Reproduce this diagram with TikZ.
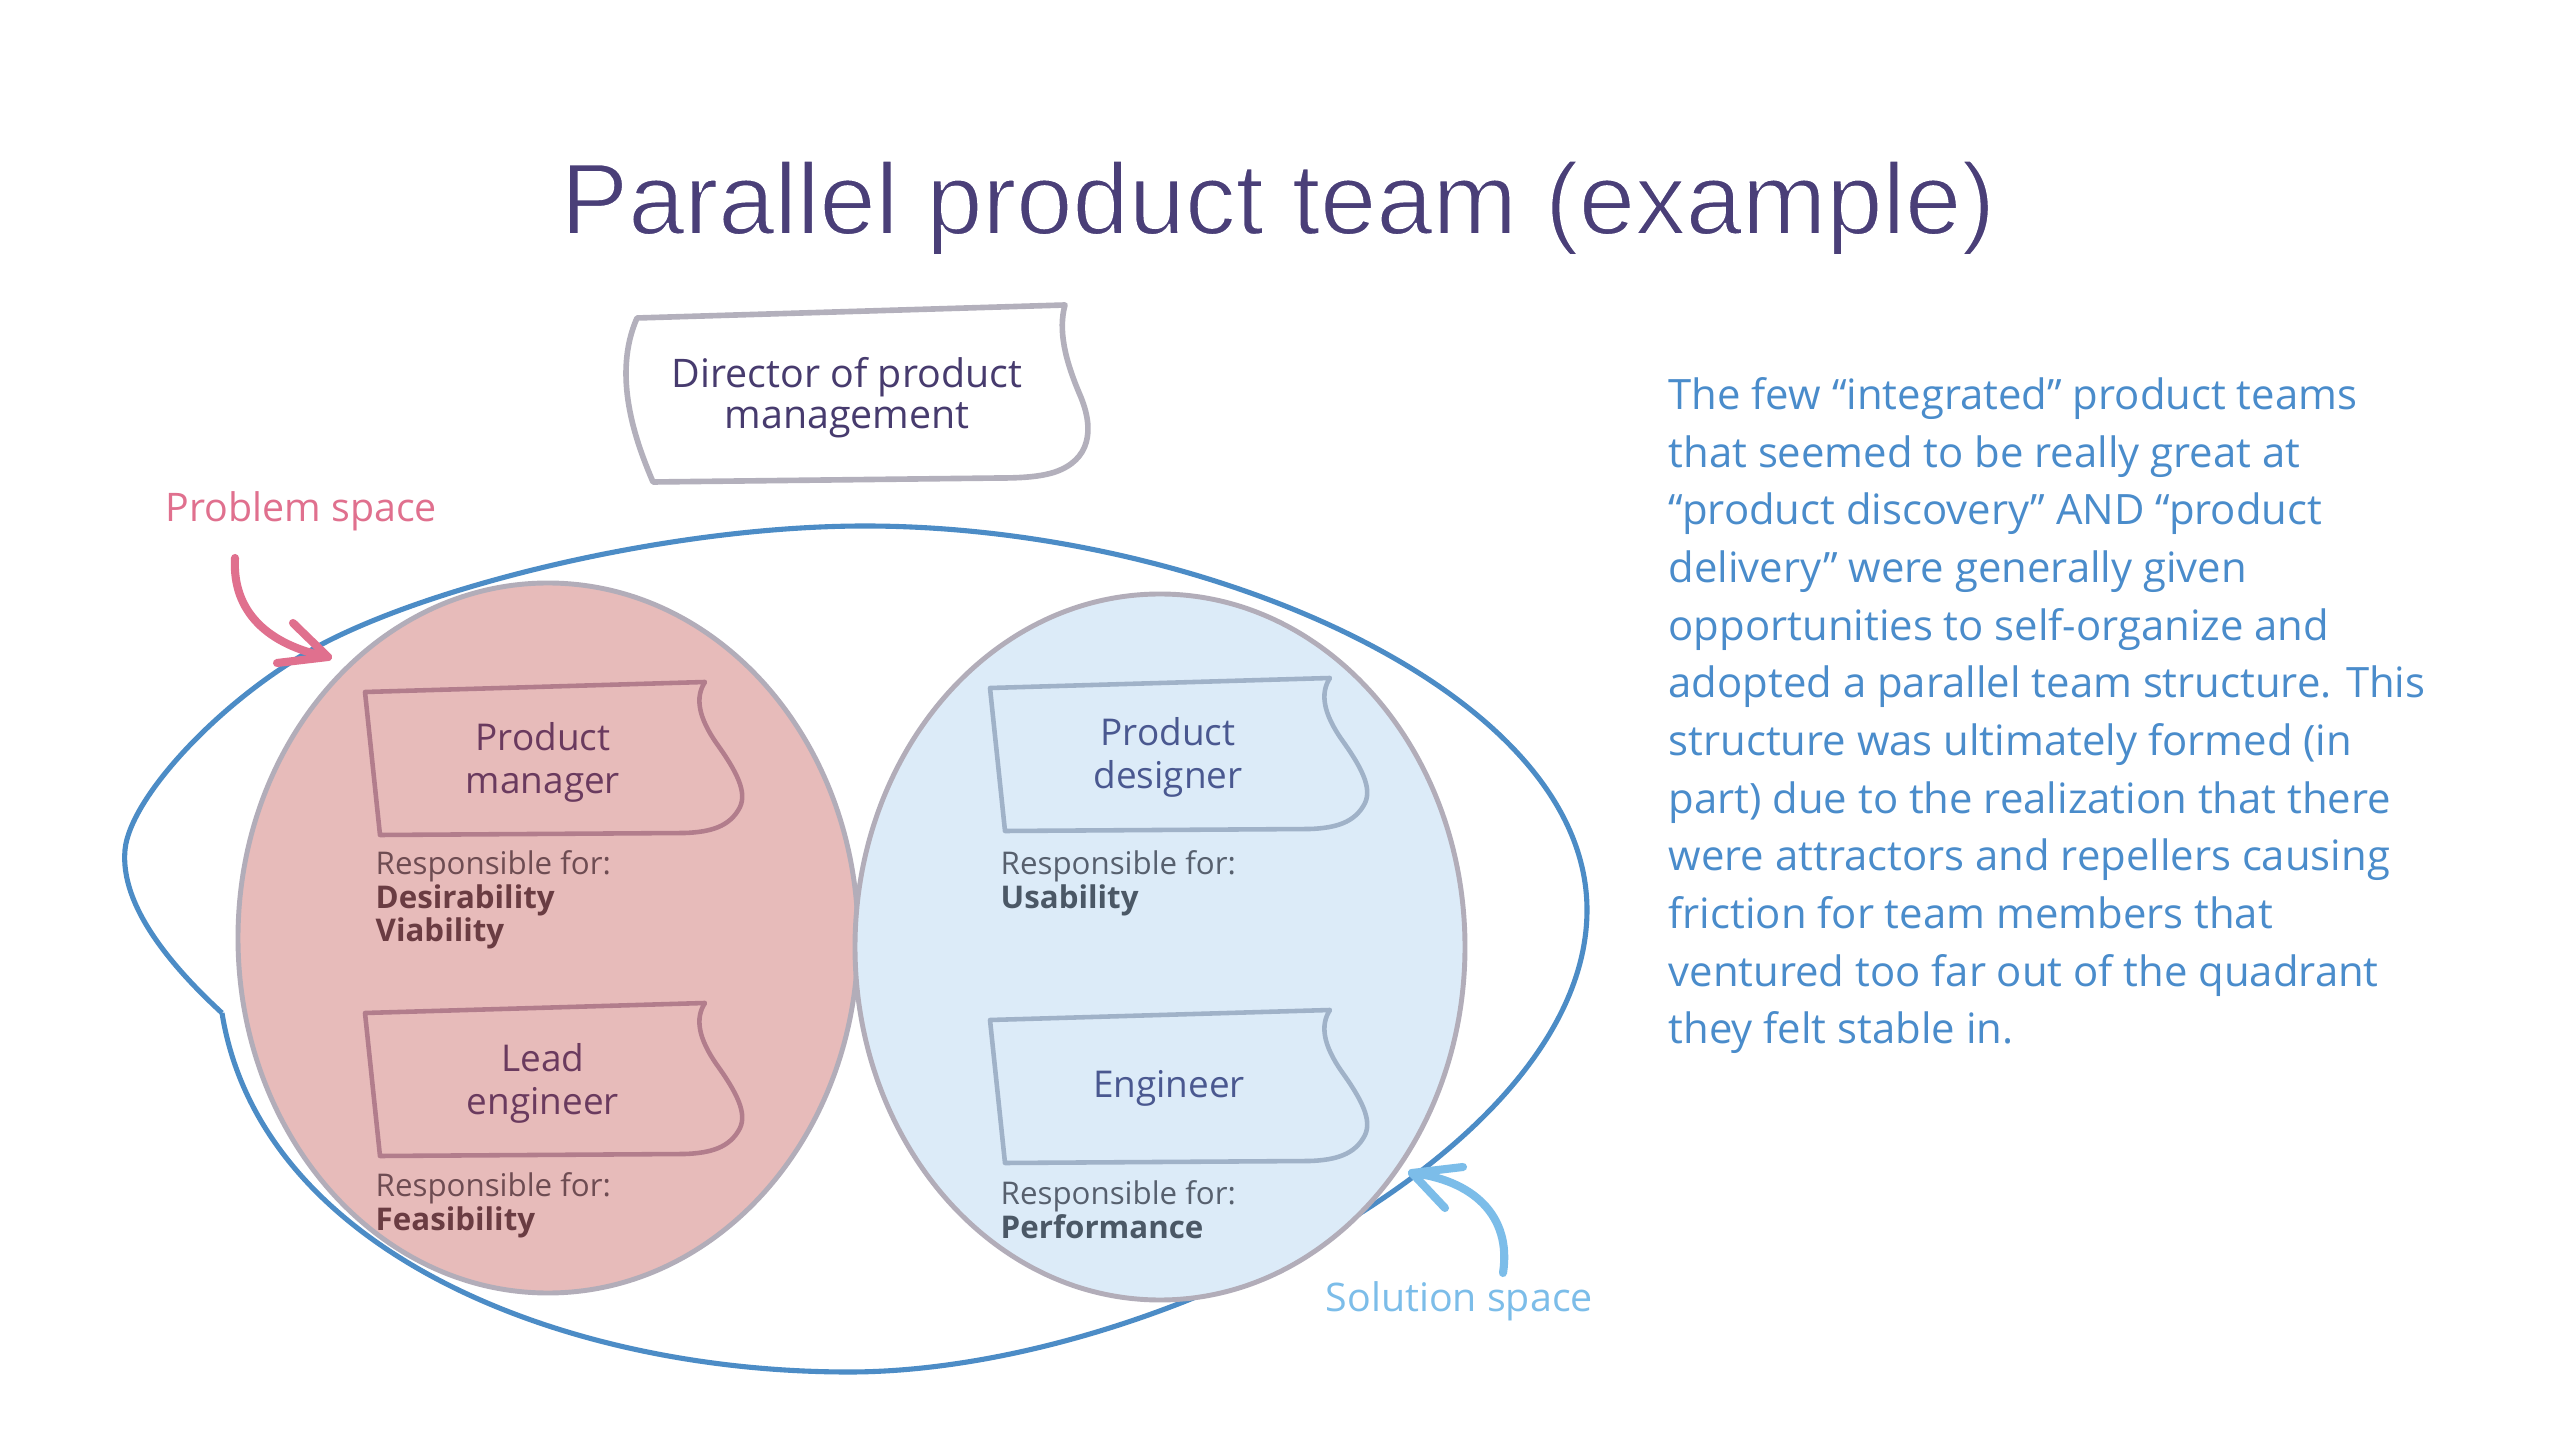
\documentclass[tikz,border=0pt]{standalone}
\usepackage{fontspec}
\setmainfont{Open Sans}
\newfontfamily\titlefont[FakeBold=1.8]{Liberation Sans}
\definecolor{titlec}{HTML}{4A3F78}
\definecolor{dirtext}{HTML}{473B6E}
\definecolor{dirline}{HTML}{B3B0BC}
\definecolor{pinkfill}{HTML}{E7BBBA}
\definecolor{ellline}{HTML}{B2ADB9}
\definecolor{pinkcard}{HTML}{B27D8C}
\definecolor{pinktext}{HTML}{6A3A5E}
\definecolor{pinkresp}{HTML}{6E4C52}
\definecolor{pinkbold}{HTML}{6A3C42}
\definecolor{bluefill}{HTML}{DCEBF8}
\definecolor{bluecard}{HTML}{A0B2C8}
\definecolor{bluetext}{HTML}{4A5890}
\definecolor{blueresp}{HTML}{57606E}
\definecolor{bluebold}{HTML}{4B5866}
\definecolor{outerc}{HTML}{4C8CC6}
\definecolor{parac}{HTML}{4A8CCB}
\definecolor{probc}{HTML}{E0708E}
\definecolor{solc}{HTML}{7CBDE9}
\begin{document}
\begin{tikzpicture}[x=0.1mm,y=-0.1mm,
  every node/.style={inner sep=0pt},
  titlestyle/.style={font=\titlefont\fontsize{28.8}{34}\selectfont, text=titlec},
  cardtext/.style={font=\fontsize{10.5}{12.2}\selectfont, align=center},
  resp/.style={font=\fontsize{8.9}{9.5}\selectfont, align=left, anchor=north west},
  spacelabel/.style={font=\fontsize{11.2}{13}\selectfont, anchor=base west},
  para/.style={font=\fontsize{11.9}{16.4}\selectfont, align=left, anchor=north west, text=parac},
  card/.pic={\draw[pic actions] (0,0) -- (340,-10) .. controls (330,5) and (333,25) .. (352,52) .. controls (372,80) and (382,100) .. (375,115) .. controls (365,135) and (345,140) .. (320,141) -- (15,143) -- cycle;},
  pinkcardstyle/.style={draw=pinkcard, line width=1.3pt, line join=round},
  bluecardstyle/.style={draw=bluecard, line width=1.3pt, line join=round},
  arrowline/.style={line width=2.3pt, line cap=round, line join=round}
]
\useasboundingbox[fill=white] (0,0) rectangle (2560,1440);

% title
\node[titlestyle, anchor=base] (title) at (1278,234) {\special{pdf:literal 1 1 1 RG}Parallel product team (example)};

% outer blue boundary
\coordinate (notch) at (222,1013);
\draw[outerc, line width=1.45pt, line join=miter]
  (notch) .. controls (170,965) and (120,905) .. (125,850)
  .. controls (130,795) and (230,690) .. (330,640)
  .. controls (450,580) and (680,526) .. (865,526)
  .. controls (1200,526) and (1587,690) .. (1587,910)
  .. controls (1587,1150) and (1150,1372) .. (849,1372)
  .. controls (560,1372) and (260,1250) .. (notch);

% ellipses
\draw[fill=pinkfill, draw=ellline, line width=1.4pt] (548,938) ellipse [x radius=310, y radius=355];
\draw[fill=bluefill, draw=ellline, line width=1.4pt] (1160,947) ellipse [x radius=305, y radius=353];

% director card
\draw[dirline, line width=1.6pt, line join=round] (637,318) -- (1065,305) .. controls (1058,330) and (1065,360) .. (1080,395) .. controls (1095,430) and (1090,460) .. (1055,472) .. controls (1040,477) and (1020,478) .. (1000,478) -- (653,482) .. controls (635,440) and (612,375) .. (637,318) -- cycle;
\node[font=\fontsize{11.2}{11.7}\selectfont, align=center, text=dirtext] (director) at (847,398) {Director of product\\management};

% cards
\pic[pinkcardstyle] at (365,692) {card};
\pic[pinkcardstyle] at (365,1013) {card};
\pic[bluecardstyle] at (990,688) {card};
\pic[bluecardstyle] at (990,1020) {card};

\node[cardtext, text=pinktext] (pm) at (543,762) {Product\\manager};
\node[cardtext, text=pinktext] (lead) at (543,1083) {Lead\\engineer};
\node[cardtext, text=bluetext] (pd) at (1168,757) {Product\\designer};
\node[cardtext, text=bluetext, anchor=base] (eng) at (1169,1098) {Engineer};

\node[resp, text=pinkresp] (pmr) at (375,850) {Responsible for:\\\textcolor{pinkbold}{\textbf{Desirability}}\\\textcolor{pinkbold}{\textbf{Viability}}};
\node[resp, text=pinkresp] (leadr) at (375,1172) {Responsible for:\\\textcolor{pinkbold}{\textbf{Feasibility}}};
\node[resp, text=blueresp] (pdr) at (1000,850) {Responsible for:\\\textcolor{bluebold}{\textbf{Usability}}};
\node[resp, text=blueresp] (engr) at (1000,1180) {Responsible for:\\\textcolor{bluebold}{\textbf{Performance}}};

% labels and arrows
\node[spacelabel, text=probc] (prob) at (165,522) {Problem space};
\node[spacelabel, text=solc] (sol) at (1325,1312) {Solution space};
\coordinate (pstart) at (235,558);
\coordinate (ptip) at (328,657);
\draw[arrowline, probc] (pstart) .. controls (232,612) and (268,645) .. (ptip);
\draw[arrowline, probc] (293,623) -- (ptip) -- (277,663);
\coordinate (sstart) at (1503,1273);
\coordinate (stip) at (1412,1173);
\draw[arrowline, solc] (sstart) .. controls (1512,1215) and (1472,1180) .. (stip);
\draw[arrowline, solc] (1463,1167) -- (stip) -- (1445,1208);

% paragraph
\node[para] (desc) at (1668,377) {The few “integrated” product teams\\
that seemed to be really great at\\
“product discovery” AND “product\\
delivery” were generally given\\
opportunities to self-organize and\\
adopted a parallel team structure. This\\
structure was ultimately formed (in\\
part) due to the realization that there\\
were attractors and repellers causing\\
friction for team members that\\
ventured too far out of the quadrant\\
they felt stable in.};
\end{tikzpicture}
\end{document}
